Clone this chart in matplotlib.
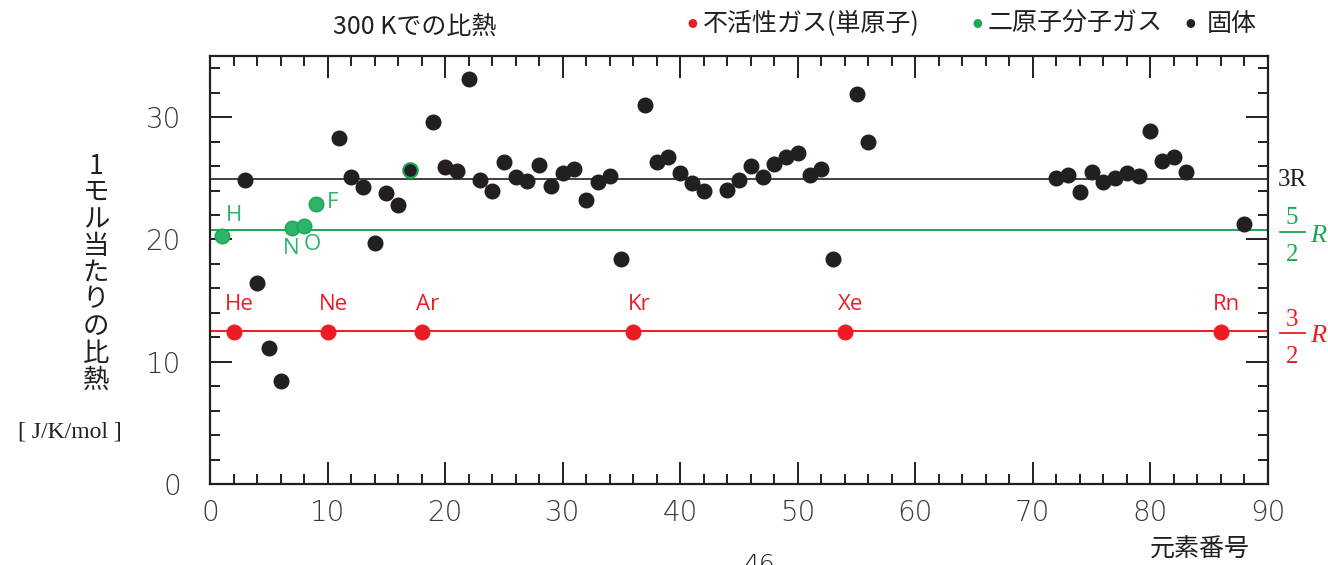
import matplotlib
matplotlib.use("Agg")
import matplotlib.pyplot as plt
from matplotlib.lines import Line2D
from matplotlib.ticker import MultipleLocator

R = 8.314

# noble gases (monatomic)
noble_z = [2, 10, 18, 36, 54, 86]
noble_cv = [12.47, 12.47, 12.47, 12.47, 12.47, 12.47]
noble_names = ["He", "Ne", "Ar", "Kr", "Xe", "Rn"]

# diatomic gases
gas_z = [1, 7, 8, 9]
gas_cv = [20.3, 20.9, 21.1, 22.9]
gas_names = ["H", "N", "O", "F"]
chlorine_z = 17
chlorine_cv = 25.7

# solids
solid_z = [3, 4, 5, 6, 11, 12, 13, 14, 15, 16,
           19, 20, 21, 22, 23, 24, 25, 26, 27, 28, 29, 30, 31, 32, 33, 34, 35,
           37, 38, 39, 40, 41, 42, 44, 45, 46, 47, 48, 49, 50, 51, 52, 53,
           55, 56,
           72, 73, 74, 75, 76, 77, 78, 79, 80, 81, 82, 83, 88]
solid_cv = [24.9, 16.4, 11.1, 8.4, 28.3, 25.1, 24.3, 19.7, 23.8, 22.8,
            29.6, 25.9, 25.6, 33.1, 24.9, 24.0, 26.3, 25.1, 24.8, 26.1, 24.4, 25.4, 25.8, 23.2, 24.7, 25.2, 18.4,
            31.0, 26.3, 26.7, 25.4, 24.6, 24.0, 24.05, 24.9, 26.0, 25.1, 26.2, 26.7, 27.05, 25.3, 25.8, 18.4,
            31.9, 28.0,
            25.0, 25.3, 23.9, 25.5, 24.7, 25.0, 25.4, 25.2, 28.85, 26.4, 26.7, 25.5, 21.3]

RED = "#ED1C24"
GREEN = "#1DA651"
GREEN_PT = "#2DB36A"
BLACK = "#231F20"
TICKC = "#3a3a3a"

W, H = 1328, 565
def fx(x):
    return x / W
def fy(y):
    return 1 - y / H

jp = ["Noto Sans CJK JP", "DejaVu Sans"]

fig = plt.figure(figsize=(13.28, 5.65), dpi=100)
ax = fig.add_axes([fx(210), fy(484), fx(1268) - fx(210), fy(56) - fy(484)])

ax.set_xlim(0, 90)
ax.set_ylim(0, 35)

ax.axhline(3 * R, color=BLACK, lw=1.2, zorder=1)
ax.axhline(2.5 * R, color=GREEN, lw=1.4, zorder=1)
ax.axhline(1.5 * R, color=RED, lw=1.4, zorder=1)

ms = 10.5
ax.plot(solid_z, solid_cv, "o", ms=ms, color=BLACK, mec=BLACK, zorder=3)
ax.plot([chlorine_z], [chlorine_cv], "o", ms=ms, color=BLACK, mec=GREEN, mew=1.5, zorder=3)
ax.plot(gas_z, gas_cv, "o", ms=ms, color=GREEN_PT, mec=GREEN, mew=1.0, zorder=3)
ax.plot(noble_z, noble_cv, "o", ms=ms, color=RED, mec=RED, zorder=3)

for z, v, name in zip(noble_z, noble_cv, noble_names):
    ax.annotate(name, (z, v), xytext=(4, 12), textcoords="offset points",
                ha="center", va="bottom", color=RED, fontsize=16, family="Open Sans")

gas_offsets = {"H": (3, 7), "N": (-1, -7), "O": (6, -6), "F": (8, 1)}
gas_align = {"H": ("left", "bottom"), "N": ("center", "top"),
             "O": ("center", "top"), "F": ("left", "center")}
for z, v, name in zip(gas_z, gas_cv, gas_names):
    ha, va = gas_align[name]
    ax.annotate(name, (z, v), xytext=gas_offsets[name], textcoords="offset points",
                ha=ha, va=va, color=GREEN_PT, fontsize=16, family="Open Sans")

ax.xaxis.set_major_locator(MultipleLocator(10))
ax.xaxis.set_minor_locator(MultipleLocator(2))
ax.yaxis.set_major_locator(MultipleLocator(10))
ax.yaxis.set_minor_locator(MultipleLocator(2))
ax.tick_params(which="both", direction="in", top=True, right=True, color=BLACK, width=1.4)
ax.tick_params(which="major", length=16)
ax.tick_params(which="minor", length=7.5)
ax.tick_params(axis="x", which="major", pad=11, labelsize=20, labelcolor=TICKC)
ax.tick_params(axis="y", which="major", pad=21, labelsize=20, labelcolor=TICKC)
for lab in ax.get_xticklabels() + ax.get_yticklabels():
    lab.set_fontweight("light")
for sp in ax.spines.values():
    sp.set_color(BLACK)
    sp.set_linewidth(1.6)

# title and legend row
fig.text(fx(415), fy(27), "300 Kでの比熱", ha="center", va="center", fontsize=18,
         family=jp, color=BLACK)
fig.text(fx(692), fy(24), "●", ha="center", va="center", fontsize=7, color=RED, family=jp)
fig.text(fx(703), fy(24), "不活性ガス(単原子)", ha="left", va="center", fontsize=18,
         family=jp, color=BLACK)
fig.text(fx(977), fy(24), "●", ha="center", va="center", fontsize=7, color=GREEN, family=jp)
fig.text(fx(988), fy(24), "二原子分子ガス", ha="left", va="center", fontsize=18,
         family=jp, color=BLACK)
fig.text(fx(1190), fy(24), "●", ha="center", va="center", fontsize=7, color=BLACK, family=jp)
fig.text(fx(1207), fy(24), "固体", ha="left", va="center", fontsize=18,
         family=jp, color=BLACK)

# vertical y label
ylabel_chars = "1モル当たりの比熱"
step = (380 - 166) / (len(ylabel_chars) - 1)
for i, ch in enumerate(ylabel_chars):
    fig.text(fx(96), fy(166 + i * step), ch, ha="center", va="center",
             fontsize=19, family=jp, color=BLACK)
fig.text(fx(70), fy(432), "[ J/K/mol ]", ha="center", va="center", fontsize=17,
         family="Liberation Serif", color=BLACK)

fig.text(fx(1200), fy(550), "元素番号", ha="center", va="center", fontsize=18,
         family=jp, color=BLACK)
fig.text(fx(760), fy(553), "46", ha="center", va="top", fontsize=18,
         family="DejaVu Sans", fontweight="light", color=BLACK)

# right-hand labels: 3R, 5/2 R, 3/2 R
serif = "Liberation Serif"
fig.text(fx(1278), fy(180), "3R", ha="left", va="center", fontsize=18, family=serif, color=BLACK)

def frac(num, den, ytop, ybar, ybot, yr, color):
    fig.text(fx(1292), fy(ytop), num, ha="center", va="center", fontsize=18,
             family=serif, color=color)
    fig.text(fx(1292), fy(ybot), den, ha="center", va="center", fontsize=18,
             family=serif, color=color)
    fig.add_artist(Line2D([fx(1280), fx(1305)], [fy(ybar), fy(ybar)],
                          transform=fig.transFigure, color=color, lw=1.3))
    fig.text(fx(1310), fy(yr), "R", ha="left", va="center", fontsize=19,
             family=serif, style="italic", color=color)

frac("5", "2", 218, 231.5, 255, 236, GREEN)
frac("3", "2", 320, 333, 357, 336, RED)

fig.savefig("out.png", dpi=100)
